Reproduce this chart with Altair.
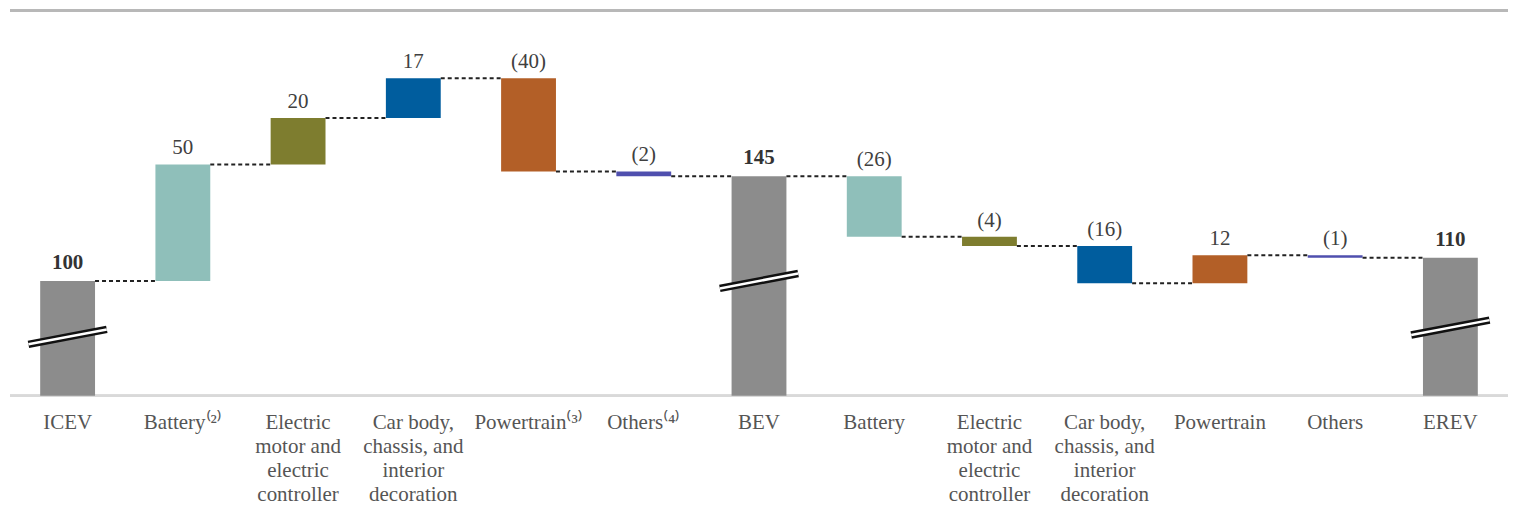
import altair as alt
import pandas as pd

# ---- data ----
categories = [
    "ICEV", "Battery⁽²⁾", "Electric\nmotor and\nelectric\ncontroller",
    "Car body,\nchassis, and\ninterior\ndecoration", "Powertrain⁽³⁾", "Others⁽⁴⁾",
    "BEV", "Battery", "Electric\nmotor and\nelectric\ncontroller",
    "Car body,\nchassis, and\ninterior\ndecoration", "Powertrain", "Others", "EREV",
]
values = [100, 50, 20, 17, -40, -2, 145, -26, -4, -16, 12, -1, 110]
kinds = ["total", "delta", "delta", "delta", "delta", "delta", "total",
         "delta", "delta", "delta", "delta", "delta", "total"]
groups = ["total", "battery", "motor", "body", "powertrain", "others", "total",
          "battery", "motor", "body", "powertrain", "others", "total"]
# axis-break marks on total bars (centre value of the break)
break_centres = {0: 76, 6: 100, 12: 80}

group_order = ["total", "battery", "motor", "body", "powertrain", "others"]
group_colors = ["#8c8c8c", "#8fbfba", "#7e7d2f", "#005d9e", "#b35f27", "#4f4fae"]

SERIF = "Liberation Serif"
Y_MIN, Y_MAX = 50.7, 216.6
W, H = 1500, 387
HW = 0.238

rows = []
level = 0
for i, (c, v, k, g) in enumerate(zip(categories, values, kinds, groups)):
    if k == "total":
        start, end = Y_MIN, v
        level = v
        label = str(v)
    else:
        start, end = level, level + v
        level = end
        label = str(v) if v >= 0 else f"({-v})"
    rows.append(dict(i=i, x0=i - HW, x1=i + HW, start=start, end=end,
                     top=max(start, end), cat=c, kind=k, group=g, label=label,
                     level=level))
df = pd.DataFrame(rows)

conn = pd.DataFrame([
    dict(x0=r["i"] + HW, x1=r["i"] + 1 - HW, y=r["level"])
    for r in rows[:-1]
])

brk = pd.DataFrame([
    dict(x0=i - 0.34, x1=i + 0.34, y0=c - 3.2, y1=c + 3.2)
    for i, c in break_centres.items()
])

xs = alt.Scale(domain=[-0.5, 12.5], nice=False, zero=False)
ys = alt.Scale(domain=[Y_MIN, Y_MAX], nice=False, zero=False)

base = alt.Chart(df)

bars = base.mark_bar().encode(
    x=alt.X("x0:Q", scale=xs, axis=None),
    x2="x1:Q",
    y=alt.Y("start:Q", scale=ys, axis=None),
    y2="end:Q",
    color=alt.Color("group:N", scale=alt.Scale(domain=group_order, range=group_colors), legend=None),
)

conn_lines = alt.Chart(conn).mark_rule(color="#222222", strokeWidth=2, strokeDash=[4, 3]).encode(
    x=alt.X("x0:Q", scale=xs), x2="x1:Q", y=alt.Y("y:Q", scale=ys)
)

brk_black = alt.Chart(brk).mark_rule(color="#111111", strokeWidth=7.5).encode(
    x=alt.X("x0:Q", scale=xs), x2="x1:Q", y=alt.Y("y0:Q", scale=ys), y2="y1:Q"
)
brk_white = alt.Chart(brk).mark_rule(color="#ffffff", strokeWidth=2.5).encode(
    x=alt.X("x0:Q", scale=xs), x2="x1:Q", y=alt.Y("y0:Q", scale=ys), y2="y1:Q"
)

lbl_delta = base.transform_filter(alt.datum.kind == "delta").mark_text(
    font=SERIF, fontSize=21, color="#404040", baseline="alphabetic", dy=-10
).encode(
    x=alt.X("i:Q", scale=xs), y=alt.Y("top:Q", scale=ys), text="label:N"
)
lbl_total = base.transform_filter(alt.datum.kind == "total").mark_text(
    font=SERIF, fontSize=21, fontWeight="bold", color="#333333",
    baseline="alphabetic", dy=-12
).encode(
    x=alt.X("i:Q", scale=xs), y=alt.Y("top:Q", scale=ys), text="label:N"
)

cat_labels = base.mark_text(
    font=SERIF, fontSize=21, color="#555555", baseline="top",
    lineBreak="\n", lineHeight=24, align="center"
).encode(
    x=alt.X("i:Q", scale=xs), y=alt.value(H + 16), text="cat:N"
)

axis_line = alt.Chart(df).mark_rule(color="#d9d9d9", strokeWidth=2).encode(
    x=alt.value(0), x2=alt.value(W), y=alt.value(H)
)
top_line = alt.Chart(df).mark_rule(color="#b8b8b8", strokeWidth=2.5).encode(
    x=alt.value(0), x2=alt.value(W), y=alt.value(1)
)

chart = alt.layer(
    top_line, axis_line, bars, conn_lines, brk_black, brk_white,
    lbl_delta, lbl_total, cat_labels
).properties(width=W, height=H, padding=0).configure_view(strokeWidth=0)

chart.save("out.html", embed_options={"renderer": "svg", "actions": False})
